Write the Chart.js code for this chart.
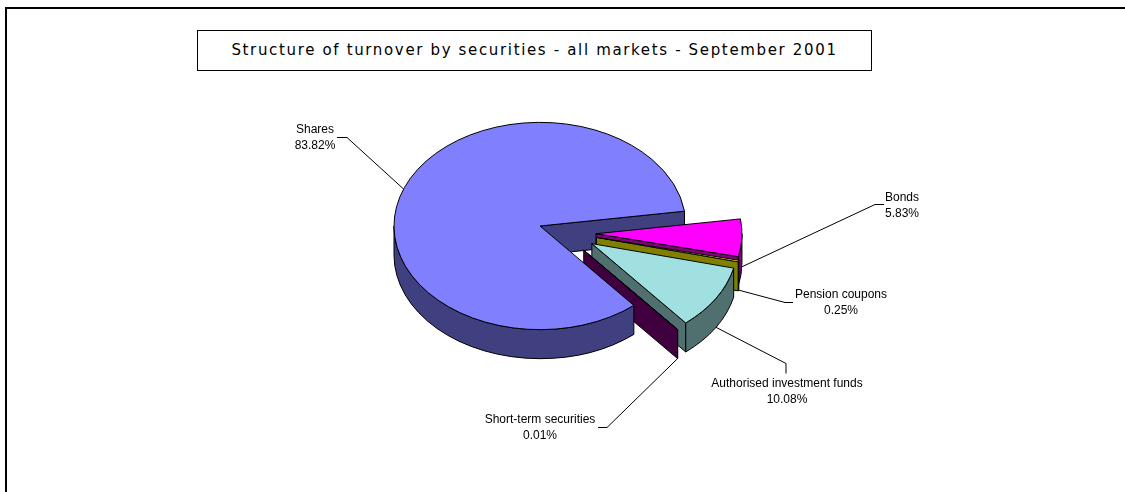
<!DOCTYPE html>
<html>
<head>
<meta charset="utf-8">
<script src="https://cdn.jsdelivr.net/npm/chart.js@4.4.1/dist/chart.umd.min.js"></script>
<style>
    html, body { margin: 0; padding: 0; background: #fff; overflow: hidden; }
    #wrap { position: relative; width: 1125px; height: 492px; overflow: hidden; }
    .rule { position: absolute; background: #000; }
    #title {
        position: absolute; left: 197px; top: 30px; width: 673px; height: 39px;
        border: 1px solid #000; background: #fff;
        font: 15px "DejaVu Sans", Verdana, sans-serif; letter-spacing: 1.65px;
        text-align: center; line-height: 39px; color: #000;
    }
    #myChart { position: absolute; left: 0; top: 0; }
</style>
</head>
<body>
<div id="wrap">
    <div class="rule" style="left:5px; top:7px; width:1120px; height:2px;"></div>
    <div class="rule" style="left:5px; top:7px; width:2px; height:485px;"></div>
    <canvas id="myChart" width="1125" height="492"></canvas>
    <div id="title">Structure of turnover by securities - all markets - September 2001</div>
</div>
<script>
// data
const categories = ["Shares", "Bonds", "Pension coupons", "Authorised investment funds", "Short-term securities"];
const shareValues = [83.82, 5.83, 0.25, 10.08, 0.01];
const explode = [0, 56, 58, 61, 68];

const topColors = ["#8080FF", "#FF00FF", "#FFFF00", "#A0E0E0", "#800080"];
const sideColors = ["#404080", "#800080", "#808000", "#507070", "#400040"];

// where each label sits: text centre x, first baseline y, leader elbow, leader end
const labelSpots = [
    { x: 315, y: 133, elbow: [347, 137], end: [337, 137] },
    { x: 902, y: 201, elbow: [875, 204], end: [884, 204] },
    { x: 841, y: 298, elbow: [785, 302], end: [793, 302] },
    { x: 787, y: 387, elbow: [786, 363], end: [786, 373] },
    { x: 540, y: 423, elbow: [607, 427], end: [598, 427] },
];

const TILT = 0.71;        // squash of the pie plane
const DEPTH = 29;         // thickness of the pie
const PULL_TILT = 0.33;   // excel flattens the explode shift more than the pie
const PULL_DROP = 7;      // and drops exploded slices a little

// geometry of one slice, taken from the arc element chart.js laid out
function sliceGeom(arc) {
    const mid = (arc.startAngle + arc.endAngle) / 2;
    const off = arc.options.offset || 0;
    return {
        cx: arc.x + Math.cos(mid) * off,
        cy: arc.y + (off ? Math.sin(mid) * off * PULL_TILT + PULL_DROP : 0),
        oy: Math.sin(mid) * off,
        r: arc.outerRadius,
        a0: arc.startAngle,
        a1: arc.endAngle,
        mid: mid,
    };
}

function edgePoint(g, a) {
    return [g.cx + Math.cos(a) * g.r, g.cy + Math.sin(a) * g.r * TILT];
}

const pie3d = {
    id: "pie3d",
    beforeDatasetsDraw(chart) {
        const ctx = chart.ctx;
        const arcs = chart.getDatasetMeta(0).data;
        const faces = [];

        arcs.forEach((arc, i) => {
            const g = sliceGeom(arc);
            const color = sideColors[i];

            // flat ends of the slice, only those turned to the viewer
            [[g.a1, Math.cos(g.a1) > 0], [g.a0, Math.cos(g.a0) < 0]].forEach(([a, seen]) => {
                if (!seen) return;
                faces.push({
                    key: g.oy + 0.5 * g.r * Math.sin(a),
                    color: color,
                    path() {
                        const [ex, ey] = edgePoint(g, a);
                        ctx.moveTo(g.cx, g.cy);
                        ctx.lineTo(ex, ey);
                        ctx.lineTo(ex, ey + DEPTH);
                        ctx.lineTo(g.cx, g.cy + DEPTH);
                        ctx.closePath();
                    },
                });
            });

            // round outer wall, front half only
            for (let k = -1; k <= 2; k++) {
                const lo = Math.max(g.a0, 2 * Math.PI * k);
                const hi = Math.min(g.a1, 2 * Math.PI * k + Math.PI);
                if (hi <= lo) continue;
                faces.push({
                    key: g.oy + g.r * Math.sin((lo + hi) / 2),
                    color: color,
                    path() {
                        ctx.ellipse(g.cx, g.cy, g.r, g.r * TILT, 0, lo, hi);
                        ctx.ellipse(g.cx, g.cy + DEPTH, g.r, g.r * TILT, 0, hi, lo, true);
                        ctx.closePath();
                    },
                });
            }
        });

        ctx.save();
        ctx.lineWidth = 1;
        ctx.strokeStyle = "#000";
        ctx.lineJoin = "round";

        faces.sort((a, b) => a.key - b.key);
        faces.forEach((f) => {
            ctx.beginPath();
            f.path();
            ctx.fillStyle = f.color;
            ctx.fill();
            ctx.stroke();
        });

        // top faces last
        arcs.forEach((arc) => {
            const g = sliceGeom(arc);
            ctx.beginPath();
            ctx.moveTo(g.cx, g.cy);
            ctx.ellipse(g.cx, g.cy, g.r, g.r * TILT, 0, g.a0, g.a1);
            ctx.closePath();
            ctx.fillStyle = arc.options.backgroundColor;
            ctx.fill();
            ctx.stroke();
        });
        ctx.restore();
        return false;
    },
    afterDraw(chart) {
        const ctx = chart.ctx;
        const arcs = chart.getDatasetMeta(0).data;
        ctx.save();
        ctx.font = '12px "Liberation Sans", Arial, sans-serif';
        ctx.fillStyle = "#000";
        ctx.strokeStyle = "#000";
        ctx.lineWidth = 1;
        ctx.textAlign = "center";
        arcs.forEach((arc, i) => {
            const g = sliceGeom(arc);
            const spot = labelSpots[i];
            let [ax, ay] = edgePoint(g, g.mid);
            if (Math.sin(g.mid) > 0) ay += DEPTH;

            ctx.beginPath();
            ctx.moveTo(ax, ay);
            ctx.lineTo(spot.elbow[0], spot.elbow[1] + 0.5);
            ctx.lineTo(spot.end[0], spot.end[1] + 0.5);
            ctx.stroke();

            ctx.fillText(categories[i], spot.x, spot.y);
            ctx.fillText(shareValues[i].toFixed(2) + "%", spot.x, spot.y + 16);
        });
        ctx.restore();
    },
};

new Chart(document.getElementById("myChart"), {
    type: "pie",
    data: {
        labels: categories,
        datasets: [
            {
                data: shareValues,
                backgroundColor: topColors,
                borderColor: "#000",
                borderWidth: 1,
                offset: explode,
                rotation: 140,
                radius: 146,
            },
        ],
    },
    options: {
        responsive: false,
        animation: false,
        events: [],
        rotation: 140,
        radius: 146,
        layout: { padding: { left: 0, right: 45, top: 0, bottom: 40 } },
        plugins: {
            legend: { display: false },
            tooltip: { enabled: false },
        },
    },
    plugins: [pie3d],
});
</script>
</body>
</html>
